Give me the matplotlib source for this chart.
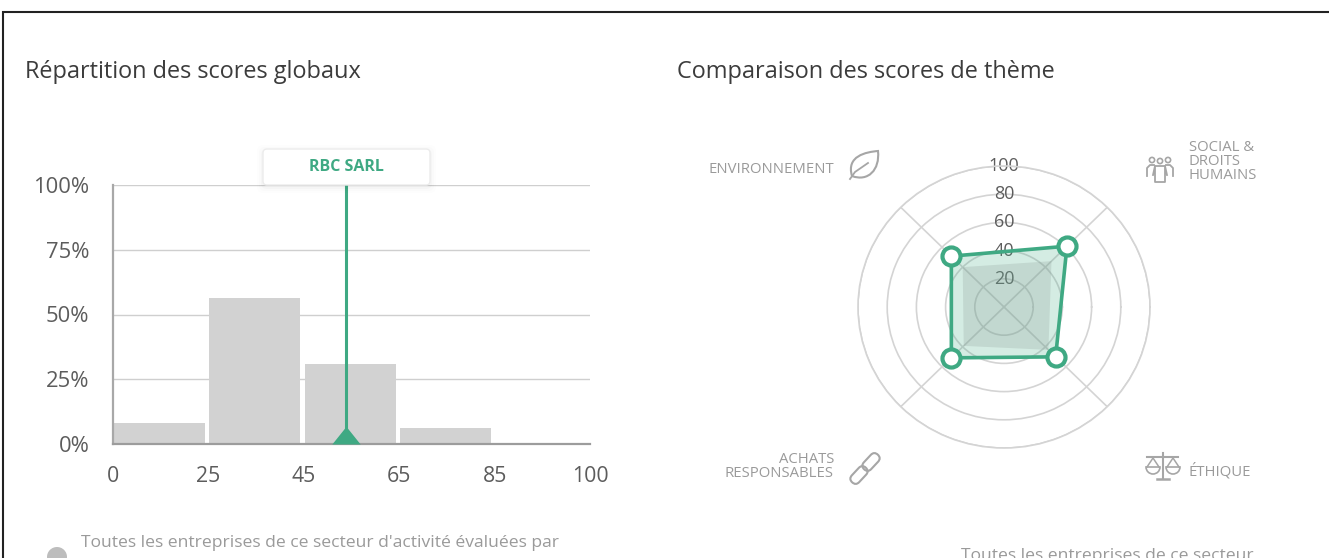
import matplotlib
matplotlib.use("Agg")
import matplotlib.pyplot as plt
import numpy as np
from matplotlib.patches import Circle, FancyBboxPatch, PathPatch, Wedge
from matplotlib.path import Path
from matplotlib.transforms import Affine2D

W, H = 1329, 558
GREEN = "#3fa983"
GREY_TXT = "#9a9a9a"
ICON = "#a6a6a6"

# left chart
bin_edges = [0, 25, 45, 65, 85, 100]
bin_shares = [8, 56.5, 31, 6, 0]
y_ticks = [0, 25, 50, 75, 100]
company = "RBC SARL"
company_score = 53.8

# right chart
themes = ["ENVIRONNEMENT", "SOCIAL & DROITS HUMAINS", "ÉTHIQUE", "ACHATS RESPONSABLES"]
theme_angles = [135, 45, 315, 225]
company_scores = [51, 61, 50, 51]
sector_scores = [40, 46, 43, 39]
radar_ticks = [20, 40, 60, 80, 100]

plt.rcParams["font.family"] = ["Open Sans", "DejaVu Sans"]

fig = plt.figure(figsize=(W / 100, H / 100), dpi=100, facecolor="white")


def box(x0, y0, x1, y1):
    return [x0 / W, 1 - y1 / H, (x1 - x0) / W, (y1 - y0) / H]


# overlay in pixel coordinates for the page furniture
page = fig.add_axes([0, 0, 1, 1], zorder=5)
page.set_xlim(0, W)
page.set_ylim(H, 0)
page.axis("off")
page.patch.set_alpha(0)

# histogram
ax = fig.add_axes(box(113, 185, 590, 444), zorder=2)
slots = np.arange(len(bin_shares))
ax.bar(slots + 0.01, bin_shares, width=0.955, align="edge", color="#d2d2d2", zorder=2)
ax.set_xlim(0, len(bin_shares))
ax.set_ylim(0, 100)
ax.set_xticks(np.arange(len(bin_edges)))
ax.set_xticklabels(bin_edges)
ax.set_yticks(y_ticks)
ax.set_yticklabels([f"{t}%" for t in y_ticks])
ax.tick_params(length=0, labelsize=15.3, labelcolor="#5c5c5c")
ax.tick_params(axis="x", pad=15.5)
ax.tick_params(axis="y", labelsize=15.8, pad=17)
ax.grid(axis="y", color="#cfcfcf", lw=1, zorder=3)
for side in ["top", "right"]:
    ax.spines[side].set_visible(False)
ax.spines["left"].set_color("#a8a8a8")
ax.spines["left"].set_linewidth(1.6)
ax.spines["bottom"].set_color("#9c9c9c")
ax.spines["bottom"].set_linewidth(1.6)

score_x = np.interp(company_score, bin_edges, np.arange(len(bin_edges)))
ax.axvline(score_x, color=GREEN, lw=2.2, zorder=4)
ax.plot(
    score_x, 0, marker=[(-1, 0), (1, 0), (0, 1.25)], ms=25.5, color=GREEN, mew=0,
    clip_on=False, zorder=5,
)

# radar, the reference is stretched so the rings are slightly oval
rad = fig.add_axes(box(858, 166, 1150, 448), projection="polar", zorder=2)
rad.set_aspect("auto")
rad.set_ylim(0, 100)
rad.set_yticks(radar_ticks)
rad.set_yticklabels([str(t) for t in radar_ticks], fontsize=13, color="#5c5c5c")
rad.set_rlabel_position(90)
rad.set_thetagrids(theme_angles, labels=[""] * len(theme_angles))
rad.grid(color="#d4d4d4", lw=1.2)
rad.spines["polar"].set_color("#d4d4d4")
rad.spines["polar"].set_linewidth(1.2)
rad.patch.set_alpha(0)
for t in rad.get_yticklabels():
    t.set_ha("center")
    t.set_va("center")
    t.set_zorder(6)

angles = np.deg2rad(theme_angles + theme_angles[:1])
company_loop = company_scores + company_scores[:1]
sector_loop = sector_scores + sector_scores[:1]
rad.fill(angles, company_loop, color=GREEN, alpha=0.22, lw=0, zorder=2)
rad.fill(angles, sector_loop, color="#8a9a94", alpha=0.24, lw=0, zorder=2)
rad.plot(angles, company_loop, color=GREEN, lw=2.6, zorder=3)
rad.plot(
    angles[:-1], company_scores, ls="none", marker="o", ms=13, mfc="white",
    mec=GREEN, mew=3, zorder=4, clip_on=False,
)

# titles
page.text(25, 71.5, "Répartition des scores globaux", fontsize=16.9, color="#3c3c3c", va="center")
page.text(677, 71.5, "Comparaison des scores de thème", fontsize=16.9, color="#3c3c3c", va="center")

# frame of the screenshot
page.plot([3, 3, W], [H, 12, 12], color="#222222", lw=1.5, solid_joinstyle="miter")

# label box above the marker
for grow, alpha in [(6, 0.008), (4, 0.012), (2, 0.018)]:
    page.add_patch(FancyBboxPatch(
        (263 - grow, 149 - grow + 2), 167 + 2 * grow, 36 + 2 * grow,
        boxstyle="round,pad=0,rounding_size=6", fc="black", ec="none", alpha=alpha,
    ))
page.add_patch(FancyBboxPatch(
    (263, 149), 167, 36, boxstyle="round,pad=0,rounding_size=4",
    fc="white", ec="#ececec", lw=1,
))
page.text(346.5, 167, company, fontsize=11.5, fontweight="bold", color=GREEN, ha="center", va="center")

# radar labels
label_kw = dict(fontsize=10.7, color=GREY_TXT, va="center", linespacing=0.95)
page.text(834, 169.5, themes[0], ha="right", **label_kw)
page.text(1189, 161.5, "SOCIAL &\nDROITS\nHUMAINS", ha="left", **label_kw)
page.text(1189, 471, themes[2], ha="left", **label_kw)
page.text(834, 466.5, "ACHATS\nRESPONSABLES", ha="right", **label_kw)

# legends, cut by the lower edge
page.add_patch(Circle((57, 557), 10, fc="#bdbdbd", ec="none"))
page.text(81, 543, "Toutes les entreprises de ce secteur d'activité évaluées par",
          fontsize=12.6, color=GREY_TXT, va="center")
page.text(1107, 556, "Toutes les entreprises de ce secteur",
          fontsize=12.6, color=GREY_TXT, va="center", ha="center")

# theme icons
# leaf
leaf = Path(
    [(852, 176), (846, 156), (866, 152), (878, 151), (880, 170), (868, 182), (852, 176), (852, 176)],
    [Path.MOVETO, Path.CURVE4, Path.CURVE4, Path.CURVE4, Path.CURVE4, Path.CURVE4, Path.LINETO, Path.CLOSEPOLY],
)
page.add_patch(PathPatch(leaf, fc="none", ec=ICON, lw=1.5))
page.plot([850, 855, 868], [179, 172, 163], color=ICON, lw=1.3)

# people
for cx, cy in [(1152, 160), (1160, 161), (1168, 160)]:
    page.add_patch(Circle((cx, cy), 2.6, fc="none", ec=ICON, lw=1.2))
page.plot([1147, 1147, 1150, 1154], [176, 168, 165, 165], color=ICON, lw=1.3)
page.plot([1173, 1173, 1170, 1166], [176, 168, 165, 165], color=ICON, lw=1.3)
page.plot([1153, 1155, 1155, 1165, 1165, 1167], [175, 166, 182, 182, 166, 175], color=ICON, lw=1.3)
page.plot([1155, 1165], [166, 166], color=ICON, lw=1.3)

# scales
page.plot([1163, 1163], [453, 478], color=ICON, lw=1.5)
page.plot([1147, 1178], [457, 457], color=ICON, lw=1.5)
page.plot([1157, 1169], [478.5, 478.5], color=ICON, lw=1.8)
for cx in [1153, 1173]:
    page.plot([cx - 6, cx, cx + 6], [467, 458, 467], color=ICON, lw=1.1)
    page.add_patch(Wedge((cx, 467), 7, 0, 180, fc="none", ec=ICON, lw=1.2))

# chain
for cx, cy in [(859, 475), (871, 462)]:
    page.add_patch(FancyBboxPatch(
        (cx - 10, cy - 5), 20, 10, boxstyle="round,pad=0,rounding_size=5",
        fc="none", ec=ICON, lw=1.5,
        transform=Affine2D().rotate_deg_around(cx, cy, -47) + page.transData,
    ))

fig.savefig("out.png", dpi=100)
